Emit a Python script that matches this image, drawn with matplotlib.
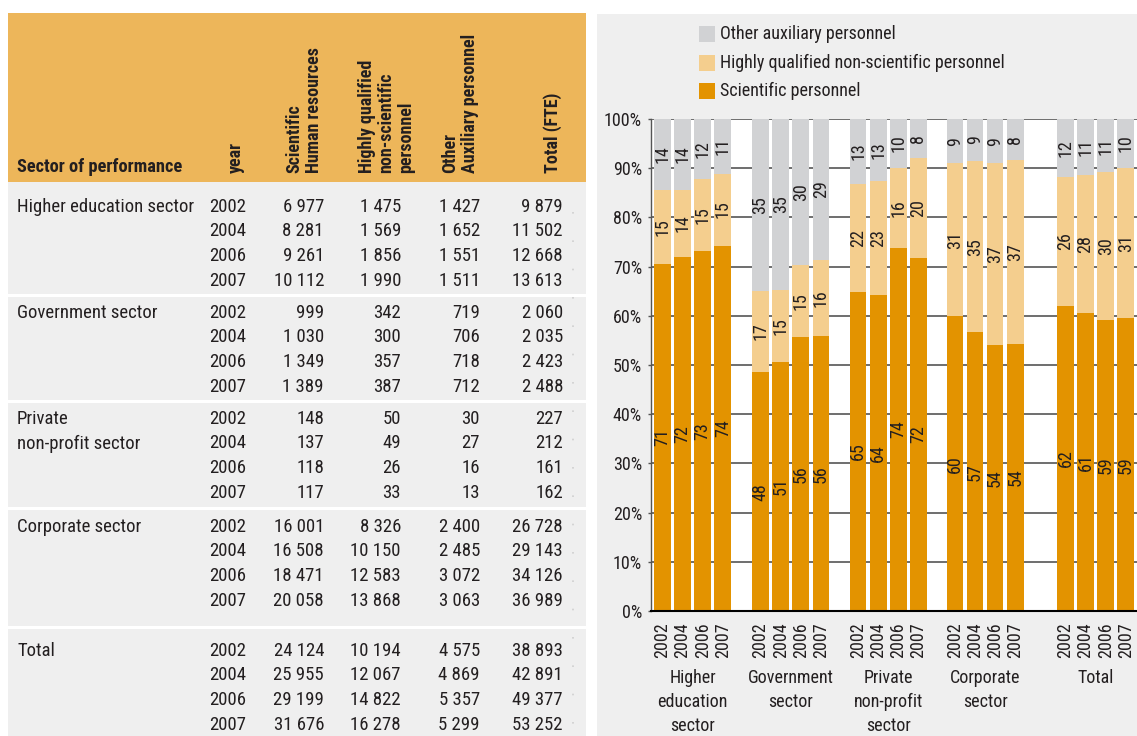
import os
import numpy as np
import matplotlib
matplotlib.use("Agg")
import matplotlib.pyplot as plt
from matplotlib import font_manager as fm
from matplotlib.patches import Rectangle
from matplotlib.lines import Line2D
import matplotlib.transforms as mtransforms

# ---------------- data ----------------
sectors = ["Higher education sector", "Government sector", "Private\nnon-profit sector",
           "Corporate sector", "Total"]
sector_axis_labels = ["Higher\neducation\nsector", "Government\nsector",
                      "Private\nnon-profit\nsector", "Corporate\nsector", "Total"]
years = ["2002", "2004", "2006", "2007"]
scientific = [[6977, 8281, 9261, 10112],
              [999, 1030, 1349, 1389],
              [148, 137, 118, 117],
              [16001, 16508, 18471, 20058],
              [24124, 25955, 29199, 31676]]
highly_qualified = [[1475, 1569, 1856, 1990],
                    [342, 300, 357, 387],
                    [50, 49, 26, 33],
                    [8326, 10150, 12583, 13868],
                    [10194, 12067, 14822, 16278]]
other_auxiliary = [[1427, 1652, 1551, 1511],
                   [719, 706, 718, 712],
                   [30, 27, 16, 13],
                   [2400, 2485, 3072, 3063],
                   [4575, 4869, 5357, 5299]]
total_fte = [[9879, 11502, 12668, 13613],
             [2060, 2035, 2423, 2488],
             [227, 212, 161, 162],
             [26728, 29143, 34126, 36989],
             [38893, 42891, 49377, 53252]]
table_headers = ["year", "Scientific\nHuman resources",
                 "Highly qualified\nnon-scientific\npersonnel",
                 "Other\nAuxiliary personnel", "Total (FTE)"]
table_title = "Sector of performance"
series_names = ["Scientific personnel", "Highly qualified non-scientific personnel",
                "Other auxiliary personnel"]
y_ticks = [0, 10, 20, 30, 40, 50, 60, 70, 80, 90, 100]

# ---------------- style ----------------
C_HEAD = "#EDB65A"
C_PANEL = "#EFEFEF"
C_SCI = "#E39300"
C_HQ = "#F4CE8E"
C_OTH = "#D1D2D4"
C_TXT = "#231F20"
C_GRID = "#555555"


def font_path(bold):
    prefs = ["Liberation Sans Narrow", "DejaVu Sans Condensed", "Roboto Condensed"]
    for fam in prefs:
        for f in fm.fontManager.ttflist:
            if f.name == fam and f.style == "normal":
                w = f.weight
                if not isinstance(w, int):
                    w = 700 if "bold" in str(w).lower() else 400
                if (w >= 600) == bold:
                    return f.fname
    for f in fm.fontManager.ttflist:
        b = os.path.basename(f.fname).lower()
        if ("narrow" in b or "condensed" in b) and ("bold" in b) == bold \
                and "italic" not in b and "oblique" not in b:
            return f.fname
    return None


REG = font_path(False)
BLD = font_path(True)


def FP(size, bold=False):
    p = BLD if bold else REG
    if p:
        return fm.FontProperties(fname=p, size=size)
    return fm.FontProperties(family="DejaVu Sans", weight="bold" if bold else "normal",
                             size=size * 0.85)


W, H = 1137, 736
fig = plt.figure(figsize=(W / 100, H / 100), dpi=100)
fig.patch.set_facecolor("white")
PX = mtransforms.Affine2D().scale(1 / W, -1 / H).translate(0, 1) + fig.transFigure


def rect(x, y, w, h, color, z=-10):
    fig.add_artist(Rectangle((x, y), w, h, transform=PX, facecolor=color,
                             edgecolor="none", zorder=z))


def txt(x, y, s, size=13.5, bold=False, **kw):
    kw.setdefault("color", C_TXT)
    fig.text(x, y, s, transform=PX, fontproperties=FP(size, bold), **kw)


# ---------------- left table ----------------
T_LEFT, T_RIGHT, T_TOP, HEAD_BOTTOM = 8, 586, 13, 182
rect(T_LEFT, T_TOP, T_RIGHT - T_LEFT, HEAD_BOTTOM - T_TOP, C_HEAD)
rect(T_LEFT, HEAD_BOTTOM, T_RIGHT - T_LEFT, H - HEAD_BOTTOM, C_PANEL)

group_y0 = [207, 313, 419, 527, 651]
row_step = 24.5
separators = [295, 401, 508, 627]
for s in separators:
    fig.add_artist(Line2D([T_LEFT, T_RIGHT], [s, s], transform=PX, color="white",
                          lw=2.2, zorder=-5))
fig.add_artist(Line2D([573, 573], [HEAD_BOTTOM + 30, H], transform=PX, color="#CFCFCF",
                      lw=1.2, ls=(0, (1, 16)), zorder=-5))

txt(17, 172, table_title, size=13.2, bold=True, ha="left", va="baseline")
head_right = [245, 323, 415, 479, 562]
for hx, hs in zip(head_right, table_headers):
    txt(hx, 173, hs, size=13, bold=True, rotation=90, ha="right", va="bottom",
        multialignment="left", linespacing=1.1)

col_right = [246, 324, 401, 480, 563]


def fmt(v):
    return f"{v:,}".replace(",", " ")


for g, name in enumerate(sectors):
    for i, line in enumerate(name.split("\n")):
        txt(17, group_y0[g] + i * row_step, line, ha="left", va="center")
    for r, yr in enumerate(years):
        y = group_y0[g] + r * row_step
        vals = [yr, fmt(scientific[g][r]), fmt(highly_qualified[g][r]),
                fmt(other_auxiliary[g][r]), fmt(total_fte[g][r])]
        for cx, v in zip(col_right, vals):
            txt(cx, y, v, ha="right", va="center")

# ---------------- right chart ----------------
P_LEFT, P_TOP = 597, 14
rect(P_LEFT, P_TOP, W - P_LEFT, H - P_TOP, C_PANEL)

AX_L, AX_T, AX_B = 651, 119, 611
AX_R = 1160
ax = fig.add_axes([AX_L / W, 1 - AX_B / H, (AX_R - AX_L) / W, (AX_B - AX_T) / H])
ax.set_facecolor("white")

bar_step_px = 20.1
group_offsets = [0, 4.88, 9.73, 14.55, 20.05]
first_center_px = 662.5
xl = -(first_center_px - AX_L) / bar_step_px
ax.set_xlim(xl, xl + (AX_R - AX_L) / bar_step_px)
ax.set_ylim(0, 100)

sci = np.array(scientific, float)
hq = np.array(highly_qualified, float)
oth = np.array(other_auxiliary, float)
tot = sci + hq + oth
sci_p, hq_p, oth_p = sci / tot * 100, hq / tot * 100, oth / tot * 100

xs_all, xl_all = [], []
tr = mtransforms.blended_transform_factory(ax.transData, PX)
for g in range(len(sectors)):
    x = group_offsets[g] + np.arange(len(years))
    xs_all.extend(x)
    xl_all.extend(years)
    ax.bar(x, sci_p[g], width=0.83, color=C_SCI, zorder=3, linewidth=0)
    ax.bar(x, hq_p[g], bottom=sci_p[g], width=0.83, color=C_HQ, zorder=3, linewidth=0)
    ax.bar(x, oth_p[g], bottom=sci_p[g] + hq_p[g], width=0.83, color=C_OTH,
           zorder=3, linewidth=0)
    for i in range(len(years)):
        bottoms = [0, sci_p[g][i], sci_p[g][i] + hq_p[g][i]]
        for b, v in zip(bottoms, [sci_p[g][i], hq_p[g][i], oth_p[g][i]]):
            ax.text(x[i], b + v / 2, f"{int(round(v))}", rotation=90, ha="center",
                    va="center", fontproperties=FP(13), color=C_TXT, zorder=4)
    gx = group_offsets[g] + (len(years) - 1) / 2
    for li, line in enumerate(sector_axis_labels[g].split("\n")):
        ax.text(gx, 678 + li * 24, line, transform=tr, ha="center", va="center",
                fontproperties=FP(13), color=C_TXT, clip_on=False)

ax.set_xticks(xs_all)
ax.set_xticklabels(xl_all, rotation=90, fontproperties=FP(13), color=C_TXT)
ax.tick_params(axis="x", length=0, pad=8)
ax.set_yticks(y_ticks)
ax.set_yticklabels([f"{t}%" for t in y_ticks], fontproperties=FP(13), color=C_TXT)
ax.tick_params(axis="y", length=2.5, width=1, color=C_GRID, pad=4)
ax.yaxis.grid(True, color=C_GRID, lw=1.2, zorder=0)
ax.set_axisbelow(True)
for sp in ["top", "right"]:
    ax.spines[sp].set_visible(False)
ax.spines["left"].set_color(C_GRID)
ax.spines["left"].set_linewidth(1)
ax.spines["bottom"].set_color("black")
ax.spines["bottom"].set_linewidth(1.5)
ax.spines["bottom"].set_zorder(5)

# legend (top to bottom: other, highly qualified, scientific)
leg_y = [34, 63, 91]
for ly, name, col in zip(leg_y, series_names[::-1], [C_OTH, C_HQ, C_SCI]):
    rect(699, ly - 8, 16, 16, col, z=1)
    txt(720, ly, name, size=13, ha="left", va="center")

fig.savefig("out.png", dpi=100, facecolor="white")
